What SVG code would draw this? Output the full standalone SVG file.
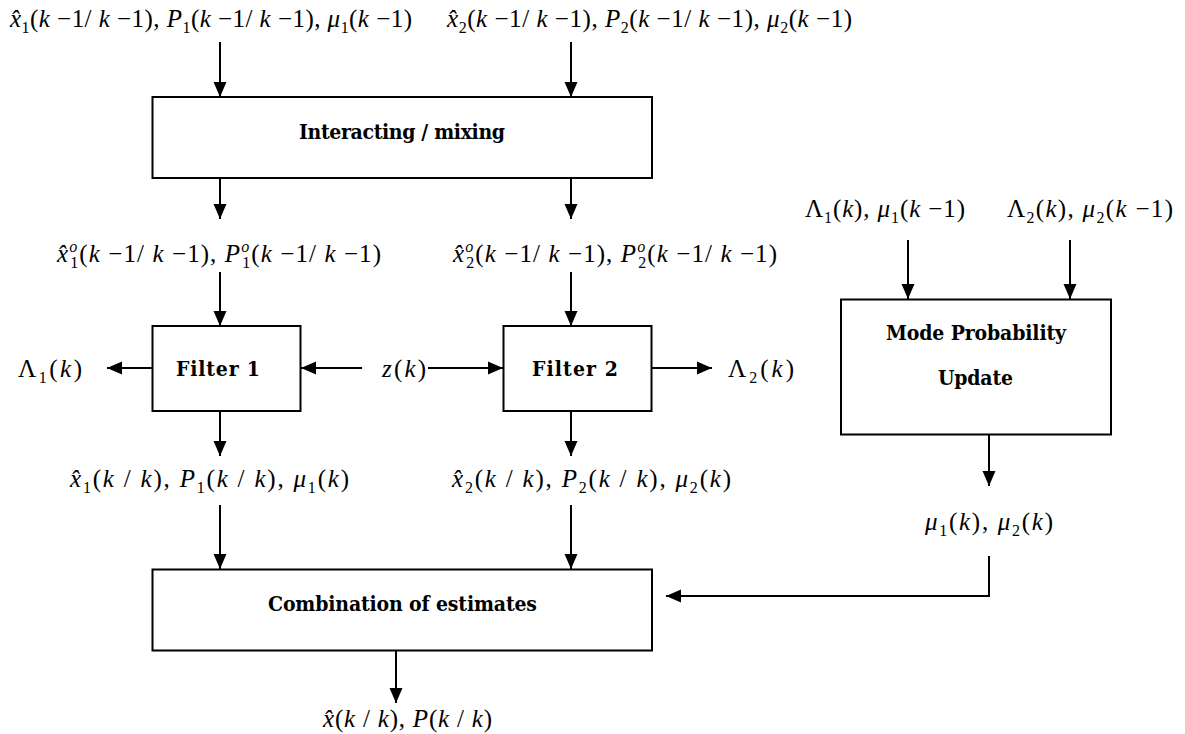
<svg xmlns="http://www.w3.org/2000/svg" width="1185" height="734" viewBox="0 0 1185 734">
<style>
.m{font-family:"Liberation Serif","Times New Roman",serif;font-size:25px;fill:#000}
.i{font-style:italic}
.s{font-size:16px}
.b{font-family:"DejaVu Serif Condensed","DejaVu Serif",serif;font-weight:bold;font-size:21px;text-anchor:middle;fill:#000}
.box{fill:#fff;stroke:#000;stroke-width:2}
.ln{stroke:#000;stroke-width:2;fill:none;marker-end:url(#ah)}
</style>
<defs>
<marker id="ah" markerUnits="userSpaceOnUse" markerWidth="15" markerHeight="14" refX="15" refY="7" orient="auto">
<path d="M0,0.5 L15,7 L0,13.5 z" fill="#000"/>
</marker>
</defs>
<g id="connectors">
<path class="ln" d="M220,42 V97"/>
<path class="ln" d="M571,42 V97"/>
<path class="ln" d="M220,178 V219"/>
<path class="ln" d="M571,178 V219"/>
<path class="ln" d="M220,272 V326"/>
<path class="ln" d="M571,272 V326"/>
<path class="ln" d="M152,368 H107"/>
<path class="ln" d="M362,368 H301"/>
<path class="ln" d="M428,368 H503"/>
<path class="ln" d="M652,368 H712"/>
<path class="ln" d="M220,411 V456"/>
<path class="ln" d="M571,411 V456"/>
<path class="ln" d="M220,505 V569"/>
<path class="ln" d="M571,505 V569"/>
<path class="ln" d="M908,240 V299"/>
<path class="ln" d="M1070,240 V299"/>
<path class="ln" d="M989,434 V486"/>
<path class="ln" d="M989,556 V596 H666"/>
<path class="ln" d="M396,650 V703"/>
</g>
<g id="label-top1"><text class="m" x="10" y="27" textLength="402"><tspan class="i">x̂</tspan><tspan class="s" dy="6">1</tspan><tspan dy="-6">(</tspan><tspan class="i">k</tspan> −1/ <tspan class="i">k</tspan> −1), <tspan class="i">P</tspan><tspan class="s" dy="6">1</tspan><tspan dy="-6">(</tspan><tspan class="i">k</tspan> −1/ <tspan class="i">k</tspan> −1), <tspan class="i">μ</tspan><tspan class="s" dy="6">1</tspan><tspan dy="-6">(</tspan><tspan class="i">k</tspan> −1)</text></g>
<g id="label-top2"><text class="m" x="447" y="27" textLength="405"><tspan class="i">x̂</tspan><tspan class="s" dy="6">2</tspan><tspan dy="-6">(</tspan><tspan class="i">k</tspan> −1/ <tspan class="i">k</tspan> −1), <tspan class="i">P</tspan><tspan class="s" dy="6">2</tspan><tspan dy="-6">(</tspan><tspan class="i">k</tspan> −1/ <tspan class="i">k</tspan> −1), <tspan class="i">μ</tspan><tspan class="s" dy="6">2</tspan><tspan dy="-6">(</tspan><tspan class="i">k</tspan> −1)</text></g>
<g id="mixing"><rect class="box" x="152.5" y="97" width="499.5" height="81"/><text class="b" x="402" y="139" textLength="206">Interacting / mixing</text></g>
<g id="label-mix1"><text class="m" x="57" y="262" textLength="324"><tspan class="i">x̂</tspan><tspan class="s i" dy="-10">o</tspan><tspan class="s" dx="-8" dy="16">1</tspan><tspan dy="-6">(</tspan><tspan class="i">k</tspan> −1/ <tspan class="i">k</tspan> −1), <tspan class="i">P</tspan><tspan class="s i" dy="-10">o</tspan><tspan class="s" dx="-8" dy="16">1</tspan><tspan dy="-6">(</tspan><tspan class="i">k</tspan> −1/ <tspan class="i">k</tspan> −1)</text></g>
<g id="label-mix2"><text class="m" x="453" y="262" textLength="324"><tspan class="i">x̂</tspan><tspan class="s i" dy="-10">o</tspan><tspan class="s" dx="-8" dy="16">2</tspan><tspan dy="-6">(</tspan><tspan class="i">k</tspan> −1/ <tspan class="i">k</tspan> −1), <tspan class="i">P</tspan><tspan class="s i" dy="-10">o</tspan><tspan class="s" dx="-8" dy="16">2</tspan><tspan dy="-6">(</tspan><tspan class="i">k</tspan> −1/ <tspan class="i">k</tspan> −1)</text></g>
<g id="filter1"><rect class="box" x="152.5" y="326" width="148" height="85"/><text class="b" x="218" y="376" textLength="84">Filter 1</text></g>
<g id="filter2"><rect class="box" x="503.5" y="326" width="148" height="85"/><text class="b" x="575" y="376" textLength="86">Filter 2</text></g>
<g id="lambda1"><text class="m" x="18" y="377" textLength="64">Λ<tspan class="s" dy="6">1</tspan><tspan dy="-6">(</tspan><tspan class="i">k</tspan>)</text></g>
<g id="zk"><text class="m" x="382" y="377" textLength="44"><tspan class="i">z</tspan>(<tspan class="i">k</tspan>)</text></g>
<g id="lambda2"><text class="m" x="728" y="377" textLength="66">Λ<tspan class="s" dy="6">2</tspan><tspan dy="-6">(</tspan><tspan class="i">k</tspan>)</text></g>
<g id="label-mp1"><text class="m" x="805" y="217" textLength="160">Λ<tspan class="s" dy="6">1</tspan><tspan dy="-6">(</tspan><tspan class="i">k</tspan>), <tspan class="i">μ</tspan><tspan class="s" dy="6">1</tspan><tspan dy="-6">(</tspan><tspan class="i">k</tspan> −1)</text></g>
<g id="label-mp2"><text class="m" x="1007" y="217" textLength="166">Λ<tspan class="s" dy="6">2</tspan><tspan dy="-6">(</tspan><tspan class="i">k</tspan>), <tspan class="i">μ</tspan><tspan class="s" dy="6">2</tspan><tspan dy="-6">(</tspan><tspan class="i">k</tspan> −1)</text></g>
<g id="mode-prob"><rect class="box" x="841" y="299.5" width="270" height="135"/><text class="b" x="976" y="340" textLength="180">Mode Probability</text><text class="b" x="975.5" y="385" textLength="75">Update</text></g>
<g id="label-f1"><text class="m" x="70" y="487" textLength="279"><tspan class="i">x̂</tspan><tspan class="s" dy="6">1</tspan><tspan dy="-6">(</tspan><tspan class="i">k</tspan> / <tspan class="i">k</tspan>), <tspan class="i">P</tspan><tspan class="s" dy="6">1</tspan><tspan dy="-6">(</tspan><tspan class="i">k</tspan> / <tspan class="i">k</tspan>), <tspan class="i">μ</tspan><tspan class="s" dy="6">1</tspan><tspan dy="-6">(</tspan><tspan class="i">k</tspan>)</text></g>
<g id="label-f2"><text class="m" x="452" y="487" textLength="279"><tspan class="i">x̂</tspan><tspan class="s" dy="6">2</tspan><tspan dy="-6">(</tspan><tspan class="i">k</tspan> / <tspan class="i">k</tspan>), <tspan class="i">P</tspan><tspan class="s" dy="6">2</tspan><tspan dy="-6">(</tspan><tspan class="i">k</tspan> / <tspan class="i">k</tspan>), <tspan class="i">μ</tspan><tspan class="s" dy="6">2</tspan><tspan dy="-6">(</tspan><tspan class="i">k</tspan>)</text></g>
<g id="label-mu"><text class="m" x="925" y="530" textLength="128"><tspan class="i">μ</tspan><tspan class="s" dy="6">1</tspan><tspan dy="-6">(</tspan><tspan class="i">k</tspan>), <tspan class="i">μ</tspan><tspan class="s" dy="6">2</tspan><tspan dy="-6">(</tspan><tspan class="i">k</tspan>)</text></g>
<g id="combination"><rect class="box" x="152.5" y="569.5" width="499.5" height="81"/><text class="b" x="402.5" y="611" textLength="269">Combination of estimates</text></g>
<g id="label-out"><text class="m" x="323" y="727" textLength="169"><tspan class="i">x̂</tspan>(<tspan class="i">k</tspan> / <tspan class="i">k</tspan>), <tspan class="i">P</tspan>(<tspan class="i">k</tspan> / <tspan class="i">k</tspan>)</text></g>
</svg>
